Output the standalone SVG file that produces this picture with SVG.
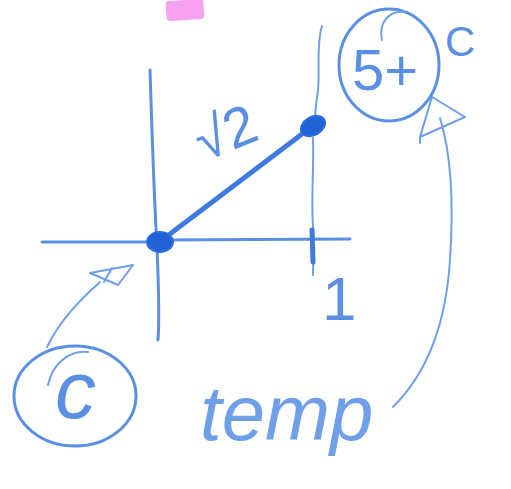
<svg xmlns="http://www.w3.org/2000/svg" width="511" height="489" viewBox="0 0 511 489">
<defs>
<style>
.ink{fill:none;stroke:#5b8fe3;stroke-width:3;stroke-linecap:round;stroke-linejoin:round}
.thin{fill:none;stroke:#6f9fe8;stroke-width:2;stroke-linecap:round;stroke-linejoin:round}
.bold{fill:none;stroke:#3f7ae0;stroke-width:5;stroke-linecap:round}
.dot{fill:#1f63d6;stroke:#2a6de0;stroke-width:2}
.hand{fill:#5b8fe3;font-family:"Liberation Sans",sans-serif}
.light{fill:#6f9fe8}
</style>
</defs>
<rect width="511" height="489" fill="#ffffff"/>
<g id="smudge"><rect x="166" y="0" width="38" height="20" rx="4" fill="#f490ee" opacity="0.85" transform="rotate(-4 185 10)"/></g>
<g id="axes">
<path class="ink" d="M150,70 C152,130 154,200 157,245 C158,280 160,310 158,340"/>
<path class="ink" d="M42,242 L160,242 M160,240 L350,239"/>
<path class="thin" d="M322,26 C316,45 320,70 318,90 C316,105 315,112 315,118"/>
<path class="thin" d="M313,138 C314,170 311,200 313,225 C314,245 313,260 313,275"/>
<path class="bold" d="M312,230 L313,262"/>
</g>
<g id="connectors">
<path class="bold" d="M162,240 L310,128"/>
<path class="thin" d="M100,282 C80,300 60,320 47,347"/>
<path class="thin" d="M90,273 L133,265 L118,285 Z M112,268 L104,282"/>
<path class="thin" d="M432,97 L465,117 L420,137 Z M420,137 L420,143"/>
<path class="thin" d="M440,118 C450,150 454,200 450,260 C446,320 430,370 393,407"/>
</g>
<g id="origin"><ellipse class="dot" cx="160" cy="242" rx="13" ry="10"/></g>
<g id="point"><ellipse class="dot" cx="313" cy="126" rx="13" ry="9" transform="rotate(-30 313 126)"/></g>
<g id="label-sqrt2"><text class="hand" x="192" y="150" font-size="56" transform="rotate(-22 228 125)">√2</text></g>
<g id="label-1"><text class="hand" x="322" y="320" font-size="62">1</text></g>
<g id="node-5c">
<ellipse class="ink" cx="389" cy="65" rx="50" ry="56"/>
<path class="thin" d="M382,40 C378,22 390,10 405,12"/>
<text class="hand" x="352" y="90" font-size="58">5+</text>
<text class="hand" x="445" y="56" font-size="42">C</text>
</g>
<g id="node-c">
<ellipse class="ink" cx="75" cy="396" rx="61" ry="50"/>
<path class="thin" d="M48,385 C52,365 68,350 88,352"/>
<text class="hand" x="55" y="418" font-size="82" font-style="italic">c</text>
</g>
<g id="label-temp"><text class="hand light" x="200" y="440" font-size="78" font-style="italic">temp</text></g>
</svg>
